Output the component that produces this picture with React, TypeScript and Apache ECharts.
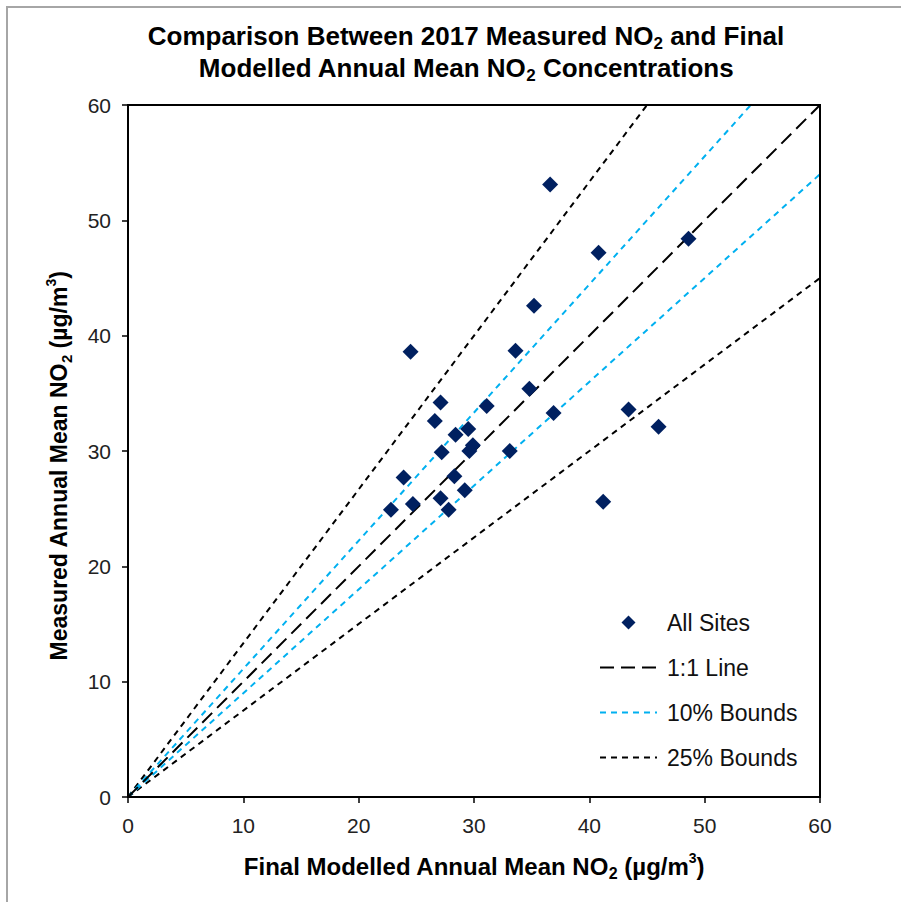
import React, { useEffect, useRef } from "react";
import * as echarts from "echarts";

// Final modelled annual mean NO2 (x) and measured annual mean NO2 (y), µg/m³
const modelled = [
  36.6, 40.8, 48.6, 35.2, 24.5, 33.6, 34.8, 27.1, 31.1, 36.9, 43.4, 46.0, 26.6, 28.4,
  29.5, 29.9, 29.6, 27.2, 33.1, 23.9, 28.3, 29.2, 24.7, 27.1, 27.8, 22.8, 41.2,
];
const measured = [
  53.1, 47.2, 48.4, 42.6, 38.6, 38.7, 35.4, 34.2, 33.9, 33.3, 33.6, 32.1, 32.6, 31.4,
  31.9, 30.5, 30.0, 29.9, 30.0, 27.7, 27.8, 26.6, 25.4, 25.9, 24.9, 24.9, 25.6,
];

// Axis range and ticks
const axisMin = 0;
const axisMax = 60;
const tickStep = 10;

// Bound ratios: measured = modelled / ratio and measured = modelled * ratio
const oneToOne = 1;
const bound10 = 0.9;
const bound25 = 0.75;

const FONT = "'Liberation Sans', Arial, sans-serif";
const NAVY = "#002060";
const CYAN = "#00B0F0";

// Plot box in page pixels
const PLOT = { left: 128, top: 105, right: 820, bottom: 797 };

// Line through the origin with the given slope, clipped to the axis box
function slopeLine(slope: number): number[][] {
  const xEnd = Math.min(axisMax, axisMax / slope);
  return [
    [axisMin, axisMin],
    [xEnd, xEnd * slope],
  ];
}

function nameRich(size: number) {
  return {
    t: { fontSize: size, fontWeight: "bold", fontFamily: FONT, color: "#000", lineHeight: 30 },
    s: {
      fontSize: Math.round(size * 0.67),
      fontWeight: "bold",
      fontFamily: FONT,
      color: "#000",
      verticalAlign: "bottom",
      lineHeight: 20,
    },
    p: {
      fontSize: Math.round(size * 0.6),
      fontWeight: "bold",
      fontFamily: FONT,
      color: "#000",
      verticalAlign: "top",
      lineHeight: 20,
    },
  };
}

export default function App() {
  const ref = useRef<HTMLDivElement>(null);

  useEffect(() => {
    if (!ref.current) return;
    const chart = echarts.init(ref.current, null, { renderer: "svg" });

    const points = modelled.map((x, i) => [x, measured[i]]);

    const axisCommon = {
      type: "value" as const,
      min: axisMin,
      max: axisMax,
      interval: tickStep,
      splitLine: { show: false },
      axisLine: { show: true, onZero: false, lineStyle: { color: "#000", width: 2 } },
      axisTick: { show: true, length: 6, inside: false, lineStyle: { color: "#000", width: 1.5 } },
      axisLabel: { color: "#222", fontSize: 21, fontFamily: FONT },
      nameLocation: "middle" as const,
    };

    const hiddenSymbol = { opacity: 0 };

    chart.setOption({
      animation: false,
      backgroundColor: "#fff",
      graphic: [
        {
          type: "rect",
          shape: { x: 7, y: 7, width: 1000, height: 1000 },
          style: { fill: "none", stroke: "#a6a6a6", lineWidth: 2 },
          silent: true,
        },
        {
          type: "rect",
          shape: {
            x: PLOT.left,
            y: PLOT.top,
            width: PLOT.right - PLOT.left,
            height: PLOT.bottom - PLOT.top,
          },
          style: { fill: "none", stroke: "#000", lineWidth: 2 },
          silent: true,
          z: 10,
        },
      ],
      title: {
        text:
          "{t|Comparison Between 2017 Measured NO}{s|2}{t| and Final}\n{t|Modelled Annual Mean NO}{s|2}{t| Concentrations}",
        left: 461,
        top: 15,
        textAlign: "center",
        textStyle: {
          rich: {
            t: { fontSize: 26, fontWeight: "bold", fontFamily: FONT, color: "#000", lineHeight: 32 },
            s: {
              fontSize: 17,
              fontWeight: "bold",
              fontFamily: FONT,
              color: "#000",
              verticalAlign: "bottom",
              lineHeight: 21,
            },
          },
        },
      },
      grid: {
        left: PLOT.left,
        top: PLOT.top,
        right: 901 - PLOT.right,
        bottom: 902 - PLOT.bottom,
        containLabel: false,
      },
      xAxis: {
        ...axisCommon,
        name: "{t|Final Modelled Annual Mean NO}{s|2}{t| (µg/m}{p|3}{t|)}",
        nameGap: 54,
        nameTextStyle: { rich: nameRich(24) },
        axisLabel: { ...axisCommon.axisLabel, margin: 18 },
      },
      yAxis: {
        ...axisCommon,
        name: "{t|Measured Annual Mean NO}{s|2}{t| (µg/m}{p|3}{t|)}",
        nameGap: 54,
        nameTextStyle: { rich: nameRich(23), padding: [0, 30, 0, 0] },
        axisLabel: { ...axisCommon.axisLabel, margin: 17 },
      },
      legend: {
        orient: "vertical",
        left: 594,
        top: 606,
        itemWidth: 57,
        itemHeight: 14,
        itemGap: 22,
        textStyle: { fontSize: 23, fontFamily: FONT, color: "#111", padding: [0, 0, 0, 5] },
        data: [
          { name: "All Sites", icon: "path://M0,-1L1,0L0,1L-1,0Z" },
          { name: "1:1 Line", itemStyle: hiddenSymbol },
          { name: "10% Bounds", itemStyle: hiddenSymbol },
          { name: "25% Bounds", itemStyle: hiddenSymbol },
        ],
      },
      series: [
        {
          name: "25% Bounds",
          type: "line",
          data: slopeLine(1 / bound25),
          symbol: "none",
          lineStyle: { color: "#000", width: 2, type: [6, 5] },
          z: 2,
        },
        {
          name: "25% Bounds",
          type: "line",
          data: slopeLine(bound25),
          symbol: "none",
          lineStyle: { color: "#000", width: 2, type: [6, 5] },
          z: 2,
        },
        {
          name: "10% Bounds",
          type: "line",
          data: slopeLine(1 / bound10),
          symbol: "none",
          lineStyle: { color: CYAN, width: 2, type: [6, 5] },
          z: 2,
        },
        {
          name: "10% Bounds",
          type: "line",
          data: slopeLine(bound10),
          symbol: "none",
          lineStyle: { color: CYAN, width: 2, type: [6, 5] },
          z: 2,
        },
        {
          name: "1:1 Line",
          type: "line",
          data: slopeLine(oneToOne),
          symbol: "none",
          lineStyle: { color: "#000", width: 2, type: [14, 7] },
          z: 2,
        },
        {
          name: "All Sites",
          type: "scatter",
          data: points,
          symbol: "diamond",
          symbolSize: 16,
          itemStyle: { color: NAVY, opacity: 1 },
          z: 5,
        },
      ],
    });

    return () => chart.dispose();
  }, []);

  return (
    <div
      ref={ref}
      style={{ position: "fixed", left: 0, top: 0, width: 901, height: 902 }}
    />
  );
}
